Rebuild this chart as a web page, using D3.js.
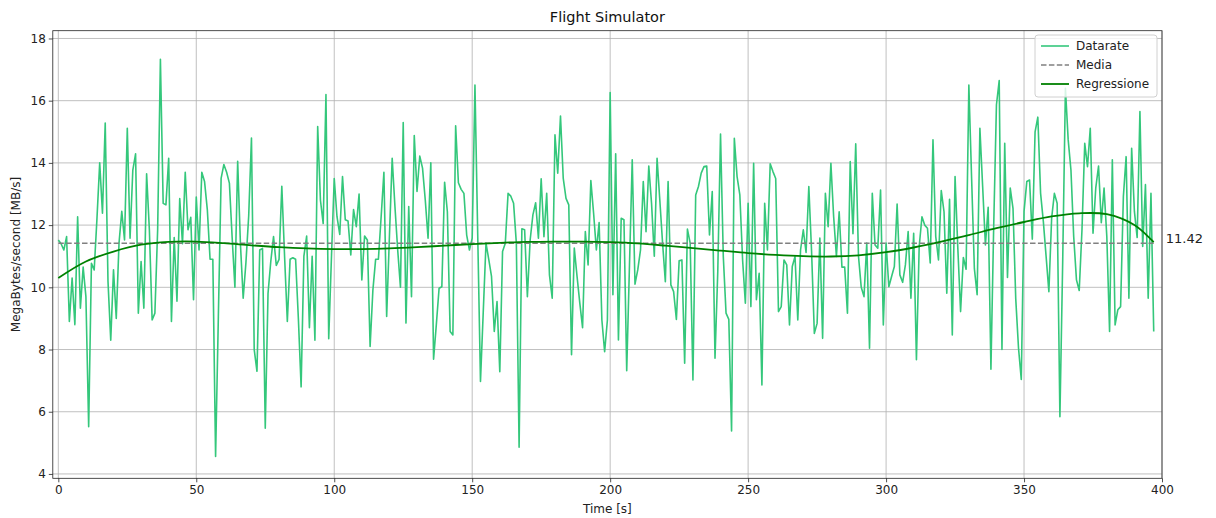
<!DOCTYPE html>
<html><head><meta charset="utf-8">
<script src="https://cdn.jsdelivr.net/npm/d3@7"></script>
<style>body{margin:0;background:#fff}svg{display:block}text{font-family:"DejaVu Sans",sans-serif}</style>
</head><body><svg id="c" width="1216" height="518"></svg>
<script>
const title = "Flight Simulator";
const xLabel = "Time [s]";
const yLabel = "MegaBytes/second [MB/s]";
const xTicks = [0,50,100,150,200,250,300,350,400];
const yTicks = [4,6,8,10,12,14,16,18];
const seriesNames = ["Datarate","Media","Regressione"];
const datarate = [
11.52,11.4,11.2,11.63,8.9,10.3,8.8,12.27,9.33,10.65,
9.7,5.52,10.77,10.56,12.2,14.0,12.38,15.28,10.2,8.3,
10.56,9.0,11.42,12.44,11.52,15.11,11.58,13.77,14.29,9.17,
10.83,9.33,13.65,11.85,8.95,9.17,11.85,17.33,12.7,12.65,
14.15,8.9,11.6,9.55,12.85,11.4,13.7,11.85,12.25,9.6,
12.9,11.2,13.7,13.4,12.5,10.9,10.9,4.56,9.05,13.5,
13.95,13.7,13.35,11.6,10.0,14.05,11.4,9.65,10.8,12.3,
14.8,8.0,7.3,11.2,11.25,5.47,9.8,10.83,11.63,10.7,
10.9,13.25,11.0,8.9,10.9,10.95,10.9,9.0,6.8,11.0,
11.65,8.7,11.0,8.3,15.17,12.8,12.05,16.2,8.35,11.0,
13.5,12.27,11.7,13.56,12.17,12.13,11.04,12.5,11.95,13.0,
10.24,11.65,11.52,8.1,9.9,10.9,10.9,12.27,13.7,9.06,
11.63,14.15,12.6,11.2,10.0,15.3,8.85,12.6,9.7,14.88,
13.08,14.22,13.83,12.8,11.58,14.0,7.69,8.8,9.97,10.02,
13.38,12.43,8.58,8.47,15.19,13.36,13.15,13.02,11.68,11.2,
11.58,16.5,11.7,6.97,9.2,11.42,10.9,10.35,8.58,9.54,
7.29,11.15,11.42,13.02,12.93,12.7,11.42,4.86,11.88,11.85,
9.7,11.52,12.33,12.72,11.58,13.49,11.63,13.02,10.4,9.65,
14.9,13.67,15.51,13.5,12.86,12.65,7.83,11.26,10.35,9.49,
8.7,11.79,10.72,13.43,12.38,11.2,12.08,8.95,7.93,8.95,
16.26,9.76,14.29,8.31,12.22,12.17,7.32,10.7,14.1,10.1,
10.56,11.2,13.4,11.79,13.9,12.7,11.0,14.15,12.8,11.42,
10.18,13.4,10.08,9.86,8.97,10.85,10.88,7.56,11.87,11.42,
7.02,12.97,13.24,13.67,13.88,13.9,11.68,13.08,7.72,10.5,
14.93,11.0,9.17,8.97,5.38,14.79,13.56,12.97,10.88,9.49,
12.7,9.38,13.99,9.6,10.45,6.86,12.7,11.2,13.97,13.72,
13.5,9.22,9.38,10.88,10.72,8.79,10.67,10.99,8.95,11.2,
11.85,11.12,13.24,11.15,8.52,8.84,11.58,8.36,13.02,11.95,
13.99,12.27,10.99,12.43,10.65,10.65,9.17,14.04,11.72,14.61,
11.0,10.0,9.7,11.42,8.04,13.02,11.36,11.26,13.13,8.79,
11.42,10.02,10.35,10.67,12.68,10.4,10.16,10.72,11.79,9.65,
11.74,7.67,11.31,12.27,12.0,11.9,10.78,14.74,11.63,10.88,
13.11,12.43,9.81,12.83,8.47,13.56,11.26,9.22,10.96,10.58,
16.5,13.5,10.6,9.76,15.11,13.24,11.36,12.57,7.37,11.95,
15.87,16.65,8.0,14.63,10.32,13.19,12.54,9.62,8.04,7.04,
12.44,13.4,13.45,11.55,15.0,15.47,13.02,12.11,10.99,9.86,
12.22,13.02,12.7,5.84,10.78,16.4,14.74,13.77,11.63,10.24,
9.9,11.85,14.63,13.88,15.11,11.74,13.2,13.9,12.08,13.19,
11.63,8.58,14.1,8.79,9.28,9.38,12.92,14.2,9.65,14.47,
12.44,11.6,15.65,11.31,13.3,9.65,13.02,8.58
];
const meanValue = 11.42;
const regX = [0,10,20,30,40,50,60,70,80,90,100,110,120,130,140,150,160,170,180,190,200,210,220,230,240,250,260,270,280,290,300,310,320,330,340,350,360,370,380,390,397];
const regY = [10.3,10.83,11.15,11.37,11.46,11.47,11.42,11.35,11.29,11.25,11.23,11.23,11.25,11.29,11.34,11.39,11.43,11.46,11.47,11.47,11.45,11.41,11.34,11.26,11.18,11.1,11.04,11.0,10.99,11.03,11.13,11.28,11.47,11.68,11.9,12.1,12.28,12.38,12.35,12.0,11.45];

const svg = d3.select("#c");
const L=52.8,R=1162,T=30.7,B=478.3;
const x = d3.scaleLinear().domain([-2,400]).range([L,R]);
const y = d3.scaleLinear().domain([3.86,18.25]).range([B,T]);
const cData="#34c77b", cMean="#808080", cReg="#008000";

// grid
const g = svg.append("g");
g.selectAll(".gx").data(xTicks).join("line").attr("x1",d=>x(d)).attr("x2",d=>x(d)).attr("y1",T).attr("y2",B).attr("stroke","#b0b0b0").attr("stroke-width",0.8);
g.selectAll(".gy").data(yTicks).join("line").attr("y1",d=>y(d)).attr("y2",d=>y(d)).attr("x1",L).attr("x2",R).attr("stroke","#b0b0b0").attr("stroke-width",0.8);

// data
const pts = datarate.map((v,i)=>[i,v]);
svg.append("path").datum(pts).attr("fill","none").attr("stroke",cData).attr("stroke-width",1.6).attr("stroke-linejoin","round")
  .attr("d",d3.line().x(d=>x(d[0])).y(d=>y(d[1])));
// mean
svg.append("line").attr("x1",x(0)).attr("x2",x(datarate.length-1)).attr("y1",y(meanValue)).attr("y2",y(meanValue))
  .attr("stroke",cMean).attr("stroke-width",1.5).attr("stroke-dasharray","5.5,2.4");
// regression
const reg = regX.map((v,i)=>[v,regY[i]]);
svg.append("path").datum(reg).attr("fill","none").attr("stroke",cReg).attr("stroke-width",1.8)
  .attr("d",d3.line().curve(d3.curveCatmullRom).x(d=>x(d[0])).y(d=>y(d[1])));
svg.append("text").attr("x",x(datarate.length-1)+12).attr("y",y(meanValue)-5).attr("dy","0.35em").attr("font-size",13).attr("fill","#222").text(meanValue.toFixed(2));

// axes
const ax = svg.append("g").attr("transform",`translate(0,${B})`).call(d3.axisBottom(x).tickValues(xTicks).tickSize(4).tickPadding(3).tickFormat(d3.format("d")));
const ay = svg.append("g").attr("transform",`translate(${L},0)`).call(d3.axisLeft(y).tickValues(yTicks).tickSize(4).tickPadding(3).tickFormat(d3.format("d")));
[ax,ay].forEach(a=>{a.select(".domain").remove();a.selectAll("text").attr("font-size",12).attr("font-family","DejaVu Sans").attr("fill","#222");a.selectAll("line").attr("stroke","#222").attr("stroke-width",0.8);});
svg.append("rect").attr("x",L).attr("y",T).attr("width",R-L).attr("height",B-T).attr("fill","none").attr("stroke","#222").attr("stroke-width",0.8);

svg.append("text").attr("x",(L+R)/2).attr("y",22).attr("text-anchor","middle").attr("font-size",14.5).attr("fill","#111").text(title);
svg.append("text").attr("x",(L+R)/2).attr("y",513).attr("text-anchor","middle").attr("font-size",12).attr("fill","#222").text(xLabel);
svg.append("text").attr("transform",`translate(20,${(T+B)/2}) rotate(-90)`).attr("text-anchor","middle").attr("font-size",12).attr("fill","#222").text(yLabel);

// legend
const lg = svg.append("g");
lg.append("rect").attr("x",1035).attr("y",35).attr("width",122).attr("height",62).attr("rx",3).attr("fill","#fff").attr("fill-opacity",0.8).attr("stroke","#d0d0d0");
const lstyles=[{c:cData,d:null,w:1.6},{c:cMean,d:"5.5,2.4",w:1.5},{c:cReg,d:null,w:1.8}];
seriesNames.forEach((n,i)=>{
  const yy = 46+i*19;
  lg.append("line").attr("x1",1041).attr("x2",1069).attr("y1",yy).attr("y2",yy).attr("stroke",lstyles[i].c).attr("stroke-width",lstyles[i].w).attr("stroke-dasharray",lstyles[i].d);
  lg.append("text").attr("x",1076).attr("y",yy).attr("dy","0.35em").attr("font-size",12).attr("fill","#222").text(n);
});
</script></body></html>
